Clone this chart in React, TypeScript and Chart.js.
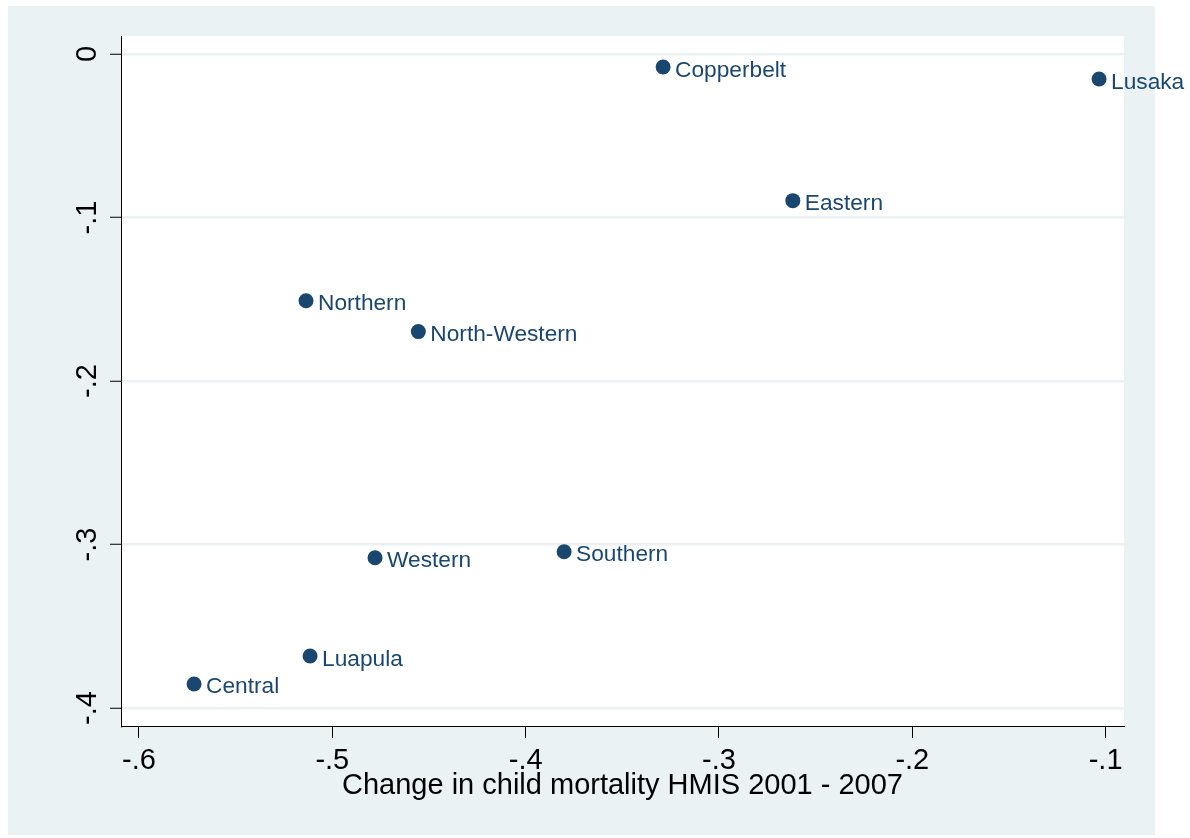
import React, { useEffect, useRef } from "react";
import { Chart, registerables } from "chart.js";

Chart.register(...registerables);

// Province-level changes (x: child mortality HMIS 2001-2007, y: second indicator)
const provinces = [
  "Copperbelt",
  "Lusaka",
  "Eastern",
  "Northern",
  "North-Western",
  "Western",
  "Southern",
  "Luapula",
  "Central",
];
const mortalityChange = [-0.3289, -0.1034, -0.2618, -0.5136, -0.4555, -0.4779, -0.3801, -0.5115, -0.5715];
const yChange = [-0.008, -0.0153, -0.0897, -0.1509, -0.1698, -0.3081, -0.3044, -0.3682, -0.3853];

const xTickValues = [-0.6, -0.5, -0.4, -0.3, -0.2, -0.1];
const xTickLabels = ["-.6", "-.5", "-.4", "-.3", "-.2", "-.1"];
const yTickValues = [-0.4, -0.3, -0.2, -0.1, 0];
const yTickLabels = ["-.4", "-.3", "-.2", "-.1", "0"];

const xTitle = "Change in child mortality HMIS 2001 - 2007";

const WIDTH = 1190;
const HEIGHT = 838;
const NAVY = "#1a476f";
const REGION_BG = "#eaf2f3";
const FONT = "'Liberation Sans', Arial, sans-serif";

// Graph region background and white plot region
const backdropPlugin = {
  id: "backdrop",
  beforeDraw(chart: any) {
    const { ctx, chartArea: a } = chart;
    ctx.save();
    ctx.fillStyle = "#ffffff";
    ctx.fillRect(0, 0, WIDTH, HEIGHT);
    ctx.fillStyle = REGION_BG;
    ctx.fillRect(8, 6, 1147, 829);
    ctx.fillStyle = "#ffffff";
    ctx.fillRect(a.left, a.top, a.right - a.left, a.bottom - a.top);
    ctx.restore();
  },
};

// Marker labels placed to the right of each point
const markerLabelPlugin = {
  id: "markerLabels",
  afterDatasetsDraw(chart: any) {
    const { ctx } = chart;
    const meta = chart.getDatasetMeta(0);
    ctx.save();
    ctx.fillStyle = NAVY;
    ctx.font = `22.7px ${FONT}`;
    ctx.textAlign = "left";
    ctx.textBaseline = "alphabetic";
    meta.data.forEach((pt: any, i: number) => {
      ctx.fillText(provinces[i], pt.x + 12, pt.y + 9.5);
    });
    ctx.restore();
  },
};

export default function App() {
  const canvasRef = useRef<HTMLCanvasElement | null>(null);

  useEffect(() => {
    const canvas = canvasRef.current;
    if (!canvas) return;
    const chart = new Chart(canvas, {
      type: "scatter",
      data: {
        datasets: [
          {
            data: mortalityChange.map((x, i) => ({ x, y: yChange[i] })),
            backgroundColor: NAVY,
            borderColor: NAVY,
            borderWidth: 0,
            pointRadius: 7.5,
            pointHoverRadius: 7.5,
            clip: false as any,
          },
        ],
      },
      options: {
        responsive: false,
        animation: false,
        events: [],
        layout: { padding: { top: 36, right: 66, left: 0, bottom: 0 } },
        plugins: {
          legend: { display: false },
          tooltip: { enabled: false },
        },
        scales: {
          x: {
            type: "linear",
            min: -0.6093,
            max: -0.0905,
            afterFit: (scale: any) => {
              scale.height = 112;
            },
            afterBuildTicks: (scale: any) => {
              scale.ticks = xTickValues.map((v) => ({ value: v }));
            },
            ticks: {
              color: "#000000",
              font: { family: FONT, size: 29 },
              padding: 6,
              maxRotation: 0,
              minRotation: 0,
              autoSkip: false,
              callback: (_v: any, i: number) => xTickLabels[i],
            },
            grid: {
              drawOnChartArea: false,
              drawTicks: true,
              tickLength: 12,
              tickColor: "#000000",
              tickWidth: 1,
            },
            border: { display: true, color: "#000000", width: 1 },
            title: {
              display: true,
              text: xTitle,
              color: "#000000",
              font: { family: FONT, size: 29 },
              padding: { top: 0, bottom: 35 },
            },
          },
          y: {
            type: "linear",
            min: -0.411,
            max: 0.011,
            afterFit: (scale: any) => {
              scale.width = 121;
            },
            afterBuildTicks: (scale: any) => {
              scale.ticks = yTickValues.map((v) => ({ value: v }));
            },
            ticks: {
              color: "#000000",
              font: { family: FONT, size: 29 },
              padding: 5,
              minRotation: 90,
              maxRotation: 90,
              crossAlign: "center",
              autoSkip: false,
              callback: (_v: any, i: number) => yTickLabels[i],
            },
            grid: {
              drawOnChartArea: true,
              color: REGION_BG,
              lineWidth: 2.5,
              drawTicks: true,
              tickLength: 11,
              tickColor: "#000000",
              tickWidth: 1,
            },
            border: { display: true, color: "#000000", width: 1 },
          },
        },
      },
      plugins: [backdropPlugin, markerLabelPlugin],
    });
    return () => chart.destroy();
  }, []);

  return (
    <div style={{ position: "fixed", left: 0, top: 0, width: WIDTH, height: HEIGHT }}>
      <canvas ref={canvasRef} width={WIDTH} height={HEIGHT} style={{ display: "block" }} />
    </div>
  );
}
